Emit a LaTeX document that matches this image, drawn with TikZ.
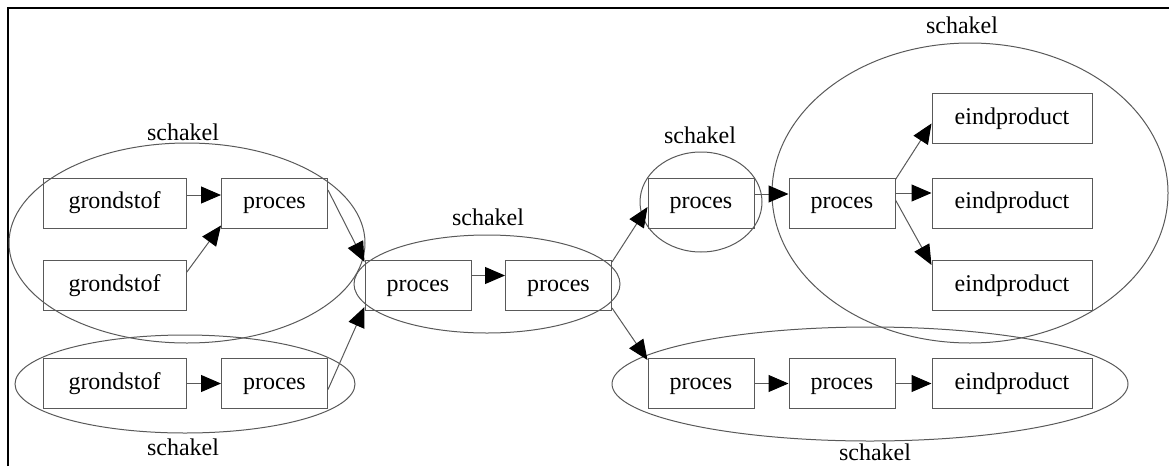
\documentclass[tikz,border=0pt]{standalone}
\usepackage{fontspec}
\setmainfont{Liberation Serif}
\usetikzlibrary{arrows.meta}
\begin{document}
\begin{tikzpicture}[x=1pt,y=-1pt,
  line/.style={draw=black!65,line width=1pt},
  boxnode/.style={line,rectangle,minimum height=50pt,inner sep=0pt,text=black,font=\fontsize{24}{27}\selectfont,text height=11pt,text depth=0pt},
  gbox/.style={boxnode,minimum width=143pt},
  pbox/.style={boxnode,minimum width=106pt},
  ebox/.style={boxnode,minimum width=160pt},
  arr/.style={line,-{Triangle[length=20pt,width=17pt,fill=black,color=black]}},
  grp/.style={line},
  lab/.style={text=black,font=\fontsize{24}{27}\selectfont,inner sep=0pt}]
\useasboundingbox (0,0) rectangle (1169,466);
\draw[line width=2.2pt] (8,466) -- (8,8) -- (1169,8);
% groups
\draw[grp] (187,243) ellipse [x radius=178pt,y radius=100pt];
\draw[grp] (185,384) ellipse [x radius=170pt,y radius=49pt];
\draw[grp] (487,284) ellipse [x radius=133pt,y radius=49pt];
\draw[grp] (701,202) ellipse [x radius=61pt,y radius=50pt];
\draw[grp] (970,193) ellipse [x radius=198pt,y radius=150pt];
\draw[grp] (870,384) ellipse [x radius=258pt,y radius=57pt];
\node[lab] (s1) at (183,132) {schakel};
\node[lab] (s2) at (183,447) {schakel};
\node[lab] (s3) at (488,217) {schakel};
\node[lab] (s4) at (700,135) {schakel};
\node[lab] (s5) at (962,25) {schakel};
\node[lab] (s6) at (875,452) {schakel};
% boxes
\node[gbox] (g1) at (114.5,203) {grondstof};
\node[pbox] (p1) at (274.5,203) {proces};
\node[gbox] (g2) at (114.5,285.5) {grondstof};
\node[gbox] (g3) at (114.5,383.5) {grondstof};
\node[pbox] (p3) at (274.5,383.5) {proces};
\node[pbox] (p4) at (418,285.5) {proces};
\node[pbox] (p5) at (558.5,285.5) {proces};
\node[pbox] (p6) at (701,203) {proces};
\node[pbox] (p7) at (701,383.5) {proces};
\node[pbox] (p8) at (842,203) {proces};
\node[pbox] (p9) at (842,383.5) {proces};
\node[ebox] (e1) at (1012,118.5) {eindproduct};
\node[ebox] (e2) at (1012,203) {eindproduct};
\node[ebox] (e3) at (1012,285.5) {eindproduct};
\node[ebox] (e4) at (1012,383.5) {eindproduct};
% edges
\draw[arr] ([yshift=8pt]g1.east) -- ([yshift=8pt]p1.west);
\draw[arr] ([yshift=13pt]g2.east) -- ([yshift=3pt]p1.south west);
\draw[arr] ([yshift=13pt]p1.east) -- ([yshift=-2pt]p4.north west);
\draw[arr] ([yshift=-6pt]p3.east) -- ([yshift=4pt]p4.south west);
\draw[arr] (g3) -- (p3);
\draw[arr] ([yshift=10pt]p4.east) -- ([yshift=10pt]p5.west);
\draw[arr] ([yshift=-2pt]p5.north east) -- ([yshift=-4pt]p6.west);
\draw[arr] ([yshift=3pt]p5.south east) -- ([yshift=-2pt]p7.north west);
\draw[arr] ([yshift=9pt]p6.east) -- ([yshift=9pt]p8.west);
\draw[arr] ([yshift=-2pt]p8.north east) -- ([yshift=-5pt]e1.west);
\draw[arr] ([yshift=10pt]p8.east) -- ([yshift=10pt]e2.west);
\draw[arr] ([yshift=3pt]p8.east) -- ([yshift=-5pt]e3.north west);
\draw[arr] (p7) -- (p9);
\draw[arr] (p9) -- (e4);
\end{tikzpicture}
\end{document}
